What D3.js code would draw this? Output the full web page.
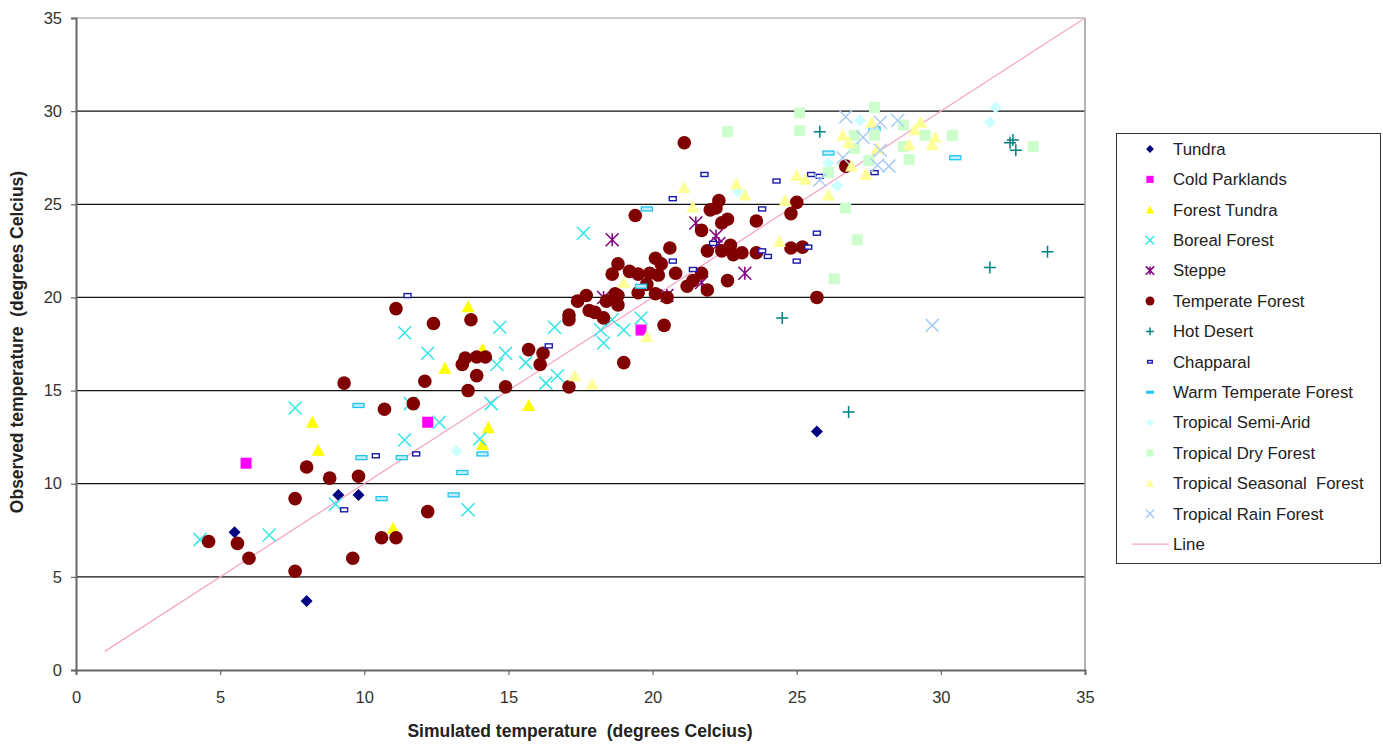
<!DOCTYPE html>
<html><head><meta charset="utf-8">
<script src="https://cdn.jsdelivr.net/npm/d3@7"></script>
<style>html,body{margin:0;padding:0;background:#fff;}svg{display:block;font-family:"Liberation Sans",Arial,sans-serif;}text{white-space:pre;}</style>
</head><body>
<svg id="chart" width="1383" height="745"></svg>
<script>
const seriesNames = ["Tundra","Cold Parklands","Forest Tundra","Boreal Forest","Steppe","Temperate Forest","Hot Desert","Chapparal","Warm Temperate Forest","Tropical Semi-Arid","Tropical Dry Forest","Tropical Seasonal  Forest","Tropical Rain Forest"];
const tundra = [[5.5,7.4],[9.1,9.4],[9.8,9.4],[8.0,3.7],[25.7,12.8]];
const coldParklands = [[5.9,11.1],[12.2,13.3],[19.6,18.25]];
const forestTundra = [[8.2,13.3],[8.4,11.8],[11.0,7.6],[14.3,13.0],[14.1,12.1],[13.6,19.5],[12.8,16.2],[14.1,17.2],[15.7,14.2]];
const borealForest = [[4.3,7.0],[6.7,7.25],[7.6,14.06],[9.0,8.9],[11.4,12.35],[12.6,13.3],[13.6,8.6],[14.0,12.4],[14.4,14.3],[11.6,14.3],[11.4,18.1],[12.2,17.0],[14.7,18.4],[14.9,17.0],[14.6,16.4],[15.6,16.5],[16.6,18.4],[16.3,15.4],[16.7,15.8],[18.2,18.25],[18.3,17.55],[19.0,18.25],[18.6,18.8],[19.6,18.9],[17.6,23.45]];
const steppe = [[18.6,23.1],[21.5,24.0],[22.2,23.3],[22.3,22.9],[23.2,21.3],[21.7,20.8],[20.5,20.1],[18.3,20.0]];
const temperateForest = [[4.6,6.9],[5.6,6.8],[6.0,6.0],[7.6,9.2],[7.6,5.3],[8.0,10.9],[8.8,10.3],[9.8,10.4],[9.6,6.0],[10.6,7.1],[11.1,7.1],[12.2,8.5],[10.7,14.0],[11.7,14.3],[9.3,15.4],[12.1,15.5],[13.6,15.0],[14.9,15.2],[11.1,19.4],[12.4,18.6],[13.7,18.8],[13.5,16.75],[13.4,16.4],[13.9,16.8],[14.2,16.8],[13.9,15.8],[15.7,17.2],[16.2,17.0],[16.1,16.4],[17.1,15.2],[17.1,19.05],[17.1,18.8],[17.4,19.8],[17.7,20.1],[17.8,19.3],[18.0,19.2],[18.3,18.9],[18.4,19.8],[18.7,20.2],[18.8,19.6],[19.0,16.5],[21.1,28.3],[19.4,24.4],[22.3,25.2],[22.2,24.8],[22.0,24.7],[22.6,24.2],[22.4,24.0],[23.6,24.1],[25.0,25.1],[24.8,24.5],[21.7,23.6],[20.6,22.65],[18.8,21.8],[20.1,22.1],[20.3,21.8],[18.6,21.25],[19.2,21.4],[19.5,21.25],[19.9,21.3],[20.2,21.2],[20.8,21.3],[21.9,22.5],[22.4,22.5],[22.7,22.8],[22.8,22.3],[23.1,22.4],[23.6,22.4],[24.8,22.65],[25.2,22.7],[21.7,21.3],[22.6,20.9],[21.9,20.4],[21.2,20.6],[21.4,20.9],[19.8,20.7],[20.1,20.2],[20.5,20.0],[19.5,20.25],[18.8,20.1],[20.4,18.5],[25.7,20.0],[26.7,27.05]];
const hotDesert = [[25.8,28.9],[32.4,28.3],[32.5,28.45],[32.6,27.9],[31.7,21.6],[33.7,22.45],[24.5,18.9],[26.8,13.85]];
const chapparal = [[9.3,8.6],[10.4,11.5],[11.8,11.6],[11.5,20.1],[16.4,17.4],[21.8,26.6],[20.7,25.3],[24.3,26.25],[23.8,24.75],[25.5,26.6],[25.8,26.5],[22.1,22.9],[23.8,22.5],[24.0,22.2],[25.0,21.95],[25.7,23.45],[25.4,22.7],[20.7,21.95],[21.4,21.5],[27.7,26.7]];
const warmTemperate = [[9.8,14.2],[9.9,11.4],[11.3,11.4],[10.6,9.2],[13.1,9.4],[13.4,10.6],[14.1,11.6],[19.8,24.75],[19.6,20.6],[26.1,27.75],[30.5,27.5],[27.7,29.05]];
const tropicalSemiArid = [[13.2,11.75],[31.9,30.2],[31.7,29.4],[27.2,29.5],[26.1,27.2],[26.4,26.0],[22.95,25.7]];
const tropicalDry = [[27.7,30.2],[25.1,29.9],[25.1,28.95],[22.6,28.9],[28.7,29.25],[33.2,28.1],[28.9,27.4],[27.5,27.35],[27.0,28.0],[27.0,28.7],[27.7,28.7],[29.45,28.7],[30.4,28.7],[28.7,28.1],[26.7,24.8],[27.1,23.1],[26.3,21.0],[26.1,26.7]];
const tropicalSeasonal = [[21.1,25.9],[22.9,26.1],[23.2,25.5],[21.4,24.85],[24.6,25.2],[25.0,26.55],[25.3,26.35],[26.1,25.5],[24.4,23.0],[19.0,20.8],[19.8,17.9],[17.3,15.8],[17.9,15.35],[26.6,28.7],[26.8,28.3],[26.9,27.05],[27.4,26.6],[27.6,29.4],[27.8,28.0],[28.9,28.2],[29.1,29.0],[29.3,29.4],[29.7,28.2],[29.8,28.6]];
const tropicalRain = [[26.7,29.7],[27.9,29.4],[28.5,29.5],[27.3,28.6],[27.9,27.9],[26.6,27.5],[27.8,27.1],[28.2,27.05],[25.8,26.3],[29.7,18.5]];
const lineData = [[1,1],[35,35]];
const xTicks = [0,5,10,15,20,25,30,35];
const yTicks = [0,5,10,15,20,25,30,35];

const seriesData = [tundra,coldParklands,forestTundra,borealForest,steppe,temperateForest,hotDesert,chapparal,warmTemperate,tropicalSemiArid,tropicalDry,tropicalSeasonal,tropicalRain];
const styles = [
 {shape:"diamond", color:"#000080"},
 {shape:"square", color:"#ff00ff"},
 {shape:"triangle", color:"#ffff00"},
 {shape:"x", color:"#33e6e6"},
 {shape:"star", color:"#800080"},
 {shape:"circle", color:"#800000"},
 {shape:"plus", color:"#008080"},
 {shape:"hrect", color:"#1a1aa8"},
 {shape:"dash", color:"#22c4ee"},
 {shape:"diamond", color:"#ccffff"},
 {shape:"square", color:"#ccffcc"},
 {shape:"triangle", color:"#ffff99"},
 {shape:"x", color:"#a8ccf4"}
];

const svg = d3.select("#chart");
const x = d3.scaleLinear().domain([0,35]).range([76,1085]);
const y = d3.scaleLinear().domain([0,35]).range([670,18]);

svg.append("g").selectAll("line").data(yTicks.filter(d=>d>0&&d<35)).join("line")
 .attr("x1",x(0)).attr("x2",x(35)).attr("y1",d=>y(d)).attr("y2",d=>y(d))
 .attr("stroke","#111").attr("stroke-width",1.3);
svg.append("line").attr("x1",x(0)).attr("x2",x(35)).attr("y1",y(35)).attr("y2",y(35)).attr("stroke","#999").attr("stroke-width",1);
svg.append("line").attr("x1",x(35)).attr("x2",x(35)).attr("y1",y(35)).attr("y2",y(0)).attr("stroke","#999").attr("stroke-width",1.5);

const xAxis = svg.append("g").attr("transform",`translate(0,${y(0)})`)
 .call(d3.axisBottom(x).tickValues(xTicks).tickSize(5).tickPadding(16));
const yAxis = svg.append("g").attr("transform",`translate(${x(0)},0)`)
 .call(d3.axisLeft(y).tickValues(yTicks).tickSize(5).tickPadding(9));
[xAxis,yAxis].forEach(a=>{
 a.select(".domain").attr("stroke","#666").attr("stroke-width",2);
 a.selectAll(".tick line").attr("stroke","#666").attr("stroke-width",1.2);
 a.selectAll(".tick text").attr("fill","#333").style("font-size","16.5px").style("font-family","'Liberation Sans',Arial,sans-serif");
});

svg.append("line").attr("x1",x(lineData[0][0])).attr("y1",y(lineData[0][1]))
 .attr("x2",x(lineData[1][0])).attr("y2",y(lineData[1][1]))
 .attr("stroke","#f4a6c8").attr("stroke-width",1.3);

function drawMarker(g, shape, color, cx, cy, s){
 s = s||1;
 if(shape==="diamond"){
  g.append("path").attr("d",`M${cx},${cy-6*s}L${cx+6*s},${cy}L${cx},${cy+6*s}L${cx-6*s},${cy}Z`).attr("fill",color);
 } else if(shape==="square"){
  g.append("rect").attr("x",cx-5.5*s).attr("y",cy-5.5*s).attr("width",11*s).attr("height",11*s).attr("fill",color);
 } else if(shape==="triangle"){
  g.append("path").attr("d",`M${cx},${cy-6.5*s}L${cx+6.5*s},${cy+5.5*s}L${cx-6.5*s},${cy+5.5*s}Z`).attr("fill",color);
 } else if(shape==="x"){
  const r=6.5*s;
  g.append("path").attr("d",`M${cx-r},${cy-r}L${cx+r},${cy+r}M${cx-r},${cy+r}L${cx+r},${cy-r}`).attr("stroke",color).attr("stroke-width",1.5).attr("fill","none");
 } else if(shape==="star"){
  const r=6.5*s;
  g.append("path").attr("d",`M${cx-r},${cy-r}L${cx+r},${cy+r}M${cx-r},${cy+r}L${cx+r},${cy-r}M${cx},${cy-r}L${cx},${cy+r}`).attr("stroke",color).attr("stroke-width",1.5).attr("fill","none");
 } else if(shape==="circle"){
  g.append("circle").attr("cx",cx).attr("cy",cy).attr("r",6.8*s).attr("fill",color);
 } else if(shape==="plus"){
  const r=6*s;
  g.append("path").attr("d",`M${cx-r},${cy}L${cx+r},${cy}M${cx},${cy-r}L${cx},${cy+r}`).attr("stroke",color).attr("stroke-width",1.5).attr("fill","none");
 } else if(shape==="hrect"){
  g.append("rect").attr("x",cx-3.5*s).attr("y",cy-2*s).attr("width",7*s).attr("height",4*s).attr("fill","#fff").attr("stroke",color).attr("stroke-width",1.4);
 } else if(shape==="dash"){
  g.append("rect").attr("x",cx-5.5*s).attr("y",cy-2*s).attr("width",11*s).attr("height",4*s).attr("fill","#bfeeff").attr("stroke",color).attr("stroke-width",1.3);
 }
}

const marks = svg.append("g");
seriesData.forEach((data,i)=>{
 const g = marks.append("g").attr("class","series");
 data.forEach(d=>drawMarker(g, styles[i].shape, styles[i].color, x(d[0]), y(d[1]), 1));
});

const lg = svg.append("g");
lg.append("rect").attr("x",1116.5).attr("y",133.5).attr("width",264).attr("height",430).attr("fill","#fff").attr("stroke","#333").attr("stroke-width",1);
const items = seriesNames.concat(["Line"]);
items.forEach((name,i)=>{
 const cy = 149 + i*30.4;
 if(i<13){
  let sh = styles[i].shape;
  if(sh==="dash"){ lg.append("rect").attr("x",1146).attr("y",cy-1.5).attr("width",8).attr("height",3).attr("fill",styles[i].color); }
  else drawMarker(lg, sh, styles[i].color, 1150, cy, 0.65);
 } else {
  lg.append("line").attr("x1",1132).attr("x2",1169).attr("y1",cy).attr("y2",cy).attr("stroke","#f4a6c8").attr("stroke-width",1.3);
 }
 lg.append("text").attr("x",1173).attr("y",cy).attr("dy","0.35em").text(name)
  .attr("fill","#222").style("font-size","16.8px");
});

svg.append("text").attr("x",580).attr("y",737).attr("text-anchor","middle")
 .style("font-size","17.5px").style("font-weight","bold").attr("fill","#222")
 .text("Simulated temperature  (degrees Celcius)");
svg.append("text").attr("transform","translate(23,342) rotate(-90)").attr("text-anchor","middle")
 .style("font-size","17.5px").style("font-weight","bold").attr("fill","#222")
 .text("Observed temperature  (degrees Celcius)");
</script>
</body></html>
